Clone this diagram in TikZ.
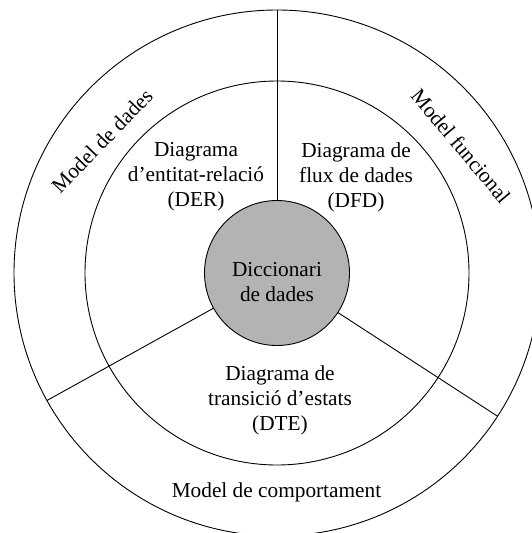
\documentclass[tikz,border=0pt]{standalone}
\usepackage{fontspec}
\setmainfont{Liberation Serif}
\definecolor{hubgray}{RGB}{179,179,179}
\begin{document}
\begin{tikzpicture}[x=1pt,y=-1pt,
  ring/.style={circle,draw,line width=0.9pt,inner sep=0pt,outer sep=0pt},
  lbl/.style={align=center,font=\fontsize{21.3}{25}\selectfont,inner sep=0pt},
  spoke/.style={line width=0.9pt}]
  \useasboundingbox (0,0) rectangle (532,533);
  \coordinate (c) at (277,273);
  % rings
  \node[ring,minimum size=526pt] (outer) at (c) {};
  \node[ring,minimum size=384pt] (inner) at (c) {};
  \node[ring,minimum size=145pt,fill=hubgray,lbl] (hub) at (c) {};
  \node[lbl] (hubtxt) at (277,282.5) {Diccionari\\de dades};
  % spokes
  \draw[spoke] (hub.90) -- (outer.90);
  \draw[spoke] (hub.209.5) -- (outer.209.5);
  \draw[spoke] (hub.-33) -- (outer.-33);
  % inner sector labels
  \node[lbl] (der) at (196,177) {Diagrama\\d’entitat-relació\\(DER)};
  \node[lbl] (dfd) at (356,177) {Diagrama de\\flux de dades\\(DFD)};
  \node[lbl] (dte) at (280,400.5) {Diagrama de\\transició d’estats\\(DTE)};
  % outer sector labels
  \node[lbl,rotate=46] (mdades) at (102,141) {Model de dades};
  \node[lbl,rotate=-50] (mfunc) at (461,146) {Model funcional};
  \node[lbl] (mcomp) at (276.5,492.5) {Model de comportament};
\end{tikzpicture}
\end{document}
